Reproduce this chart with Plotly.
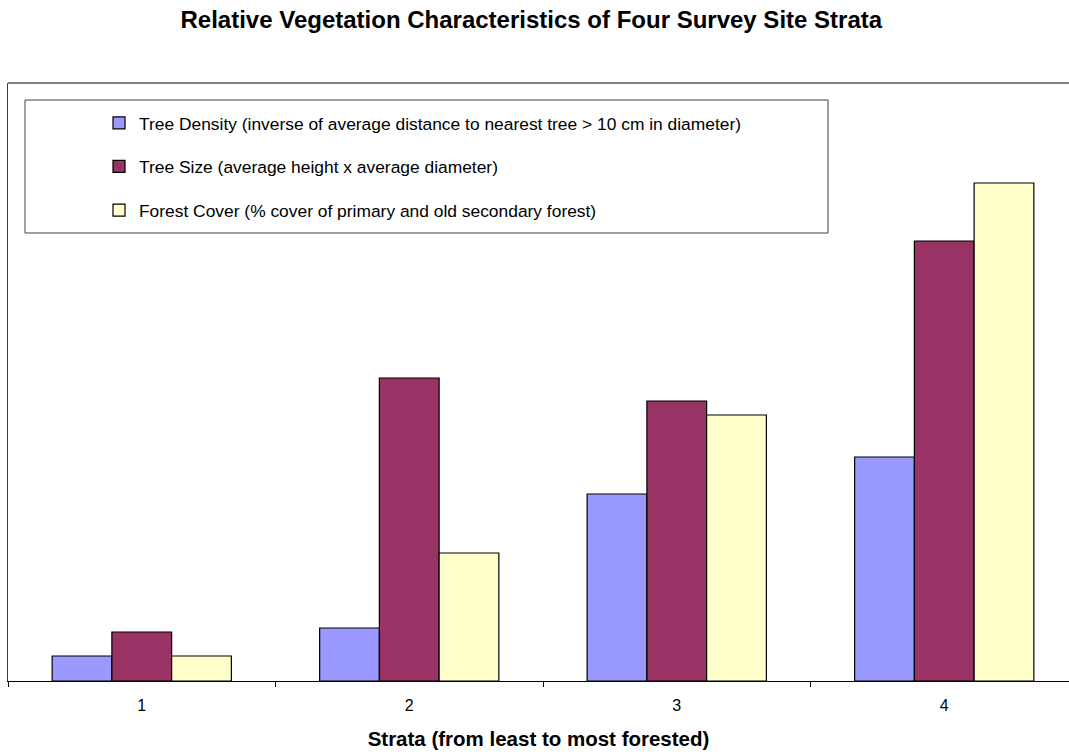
import plotly.graph_objects as go

categories = ["1", "2", "3", "4"]
tree_density = [25, 53, 187, 224]
tree_size = [49, 303, 280, 440]
forest_cover = [25, 128, 266, 498]

names = [
    "Tree Density (inverse of average distance to nearest tree > 10 cm in diameter)",
    "Tree Size (average height x average diameter)",
    "Forest Cover (% cover of primary and old secondary forest)",
]
colors = ["#9999FF", "#993366", "#FFFFCC"]

W, H = 1069, 752
L, R, T, B = 8, 0, 83, 71
pw, ph = W - L - R, H - T - B

def px2x(px):
    return (px - L) / pw

def px2y(py):
    return (H - B - py) / ph

fig = go.Figure()
for i, (vals, nm) in enumerate(zip([tree_density, tree_size, forest_cover], names)):
    fig.add_trace(go.Bar(
        x=categories, y=vals, name=nm,
        marker=dict(color=colors[i], line=dict(color="black", width=1.2)),
        legendgroup=str(i),
    ))

fig.update_layout(
    width=W, height=H,
    margin=dict(l=L, r=R, t=T, b=B),
    paper_bgcolor="white", plot_bgcolor="white",
    font=dict(family="Liberation Sans, Arial, sans-serif", color="black"),
    title=dict(text="<b>Relative Vegetation Characteristics of Four Survey Site Strata</b>",
               x=0.497, xanchor="center", y=1 - 20 / H, yanchor="middle",
               font=dict(size=24)),
    barmode="group", bargap=0.33, bargroupgap=0,
    showlegend=True,
    legend=dict(x=px2x(99), y=px2y(105), xanchor="left", yanchor="top",
                xref="paper", yref="paper", itemwidth=30,
                bgcolor="rgba(0,0,0,0)", borderwidth=0,
                font=dict(size=17.4), tracegroupgap=18, traceorder="grouped",
                itemclick=False, itemdoubleclick=False),
    xaxis=dict(type="category", range=[-0.5, -0.5 + pw / 267.5],
               showline=True, linecolor="black", linewidth=1,
               ticks="outside", tickson="boundaries", ticklen=5, tickcolor="black",
               tickfont=dict(size=16), ticklabelstandoff=10, showgrid=False,
               title=dict(text="<b>Strata (from least to most forested)</b>",
                          font=dict(size=20.5), standoff=18)),
    yaxis=dict(range=[0, ph], showline=True, linecolor="#404040", linewidth=1,
               showticklabels=False, ticks="", showgrid=False, zeroline=False),
    shapes=[
        dict(type="line", xref="paper", yref="paper", x0=0, x1=1, y0=1, y1=1,
             line=dict(color="#808080", width=2)),
        dict(type="rect", xref="paper", yref="paper",
             x0=px2x(25), x1=px2x(828), y0=px2y(100), y1=px2y(233),
             line=dict(color="#404040", width=1), fillcolor="rgba(0,0,0,0)"),
    ],
)

fig.write_html("out.html")
